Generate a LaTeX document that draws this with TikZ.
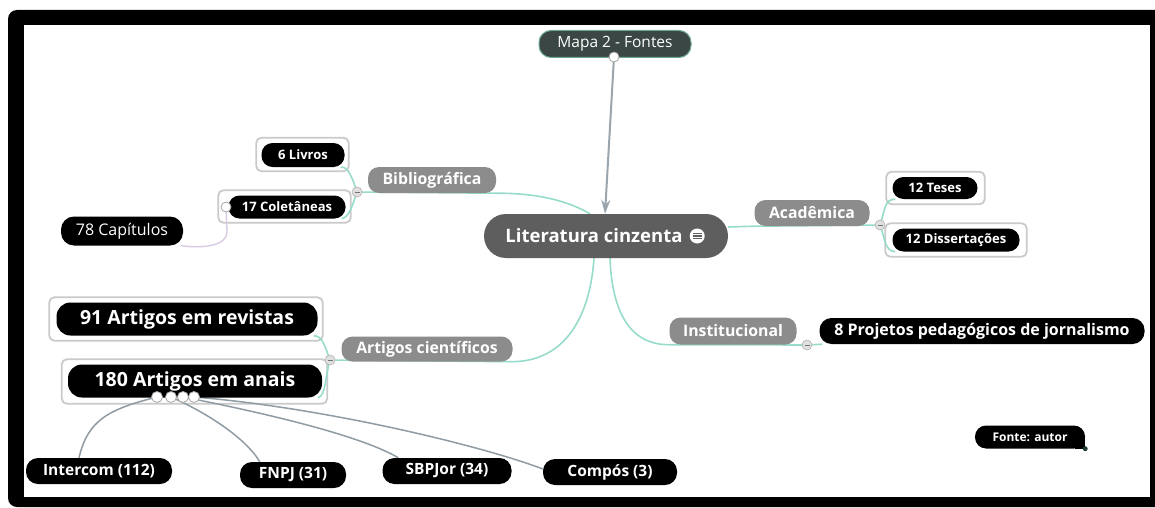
\documentclass[tikz,border=0pt]{standalone}
\usepackage{fontspec}
\setmainfont{Open Sans}
\usetikzlibrary{arrows.meta}
\definecolor{tealln}{HTML}{97DCCB}
\definecolor{brgray}{HTML}{8C8C8C}
\definecolor{frgray}{HTML}{CACACA}
\definecolor{litgray}{HTML}{5E5E5E}
\definecolor{mapafill}{HTML}{3A4745}
\definecolor{mapaline}{HTML}{6FA898}
\definecolor{conngray}{HTML}{8F9CA3}
\definecolor{arrowgray}{HTML}{9AA5AE}
\definecolor{lavender}{HTML}{D9CBE3}
\definecolor{dotgreen}{HTML}{1F3D30}
\pgfdeclarelayer{bg}
\pgfdeclarelayer{mid}
\pgfsetlayers{bg,mid,main}
\newcommand\frameit[5]{\draw[framebox] ([shift={(-#2,-#3)}]#1.south west) rectangle ([shift={(#4,#5)}]#1.north east);}
\begin{document}
\begin{tikzpicture}[x=1pt,y=1pt,
  pill/.style={rectangle, rounded corners=11, text=white, inner sep=0pt},
  branch/.style={pill, fill=brgray, font=\bfseries\fontsize{15.8}{17}\selectfont, minimum height=26},
  leaf/.style={pill, fill=black, font=\bfseries\fontsize{13}{15}\selectfont},
  bigleaf/.style={pill, fill=black, rounded corners=14, font=\bfseries\fontsize{19.5}{21}\selectfont},
  botleaf/.style={pill, fill=black, rounded corners=12, font=\bfseries\fontsize{15.5}{17}\selectfont, minimum height=26},
  framebox/.style={draw=frgray, line width=1.8, rounded corners=5, fill=white},
  tealc/.style={draw=tealln, line width=1.6},
  grayc/.style={draw=conngray, line width=1.5},
  minusc/.style={circle, fill=black!12, draw=black!30, line width=0.6, minimum size=10, inner sep=0pt,
    path picture={\draw[black!55, line width=0.8] ([xshift=-2.5]path picture bounding box.center) -- ([xshift=2.5]path picture bounding box.center);}},
  knob/.style={circle, fill=white, draw=black!35, line width=0.8, minimum size=11, inner sep=0pt}
]
\useasboundingbox (0,0) rectangle (1155,507);
% picture frame
\begin{pgfonlayer}{bg}
  \fill[black, rounded corners=9] (8,0) rectangle (1170,497);
  \fill[white] (24,10) rectangle (1150,482);
\end{pgfonlayer}

% nodes
\node[pill, fill=mapafill, draw=mapaline, line width=1, rounded corners=12, minimum width=152, minimum height=27,
      font=\fontsize{15.5}{17}\selectfont] (mapa) at (615,463) {Mapa 2 - Fontes};
\node[knob, minimum size=10] (mapak) at (614,450) {};
\node[pill, fill=litgray, rounded corners=22, minimum width=244, minimum height=44,
      font=\bfseries\fontsize{18.5}{20}\selectfont] (lit) at (606,271) {Literatura cinzenta\kern24pt};
\node[circle, fill=white, minimum size=15, inner sep=0pt,
  path picture={\foreach \dy in {-2.8,0,2.8}{\draw[litgray, line width=1.1] ([shift={(-4.5,\dy)}]path picture bounding box.center) -- ([shift={(4.5,\dy)}]path picture bounding box.center);}}]
  (icon) at ([xshift=-31]lit.east) {};

\node[branch, minimum width=128] (bib) at (432,327) {Bibliográfica};
\node[minusc] (m1) at (357,315) {};
\node[leaf, minimum width=83, minimum height=24] (liv) at (303,352) {6 Livros};
\node[leaf, minimum width=117, minimum height=23] (col) at (287,300) {17 Coletâneas};
\node[pill, fill=black, rounded corners=13, minimum width=122, minimum height=29,
      font=\fontsize{16}{18}\selectfont] (cap) at (122,276) {78 Capítulos};

\node[branch, minimum width=115] (aca) at (812,294) {Acadêmica};
\node[minusc] (m2) at (880,282) {};
\node[leaf, minimum width=85, minimum height=22] (tes) at (935,319) {12 Teses};
\node[leaf, minimum width=127, minimum height=23] (dis) at (956,267) {12 Dissertações};

\node[branch, minimum width=127, minimum height=27] (ins) at (733,176) {Institucional};
\node[minusc] (m3) at (807,162) {};
\node[pill, fill=black, rounded corners=12, minimum width=325, minimum height=26,
      font=\bfseries\fontsize{16}{18}\selectfont] (proj) at (982,176) {8 Projetos pedagógicos de jornalismo};

\node[branch, minimum width=171, minimum height=25] (art) at (427,158) {Artigos científicos};
\node[minusc] (m4) at (330,147) {};
\node[bigleaf, minimum width=261, minimum height=33] (rev) at (187,188) {91 Artigos em revistas};
\node[bigleaf, minimum width=254, minimum height=33] (ana) at (195,126) {180 Artigos em anais};

\node[botleaf, minimum width=146] (int) at (99,36) {Intercom (112)};
\node[botleaf, minimum width=106] (fnpj) at (293,32) {FNPJ (31)};
\node[botleaf, minimum width=129] (sbp) at (447,36) {SBPJor (34)};
\node[botleaf, minimum width=134] (comp) at (610,35) {Compós (3)};

\node[pill, fill=black, minimum width=110, minimum height=23,
      font=\bfseries\fontsize{12}{14}\selectfont] (fonte) at (1030,70) {Fonte: autor};
\fill[black] (fonte.south east) rectangle ([shift={(-10,10)}]fonte.south east);
\node[circle, fill=dotgreen, minimum size=5, inner sep=0pt] (fdot) at (fonte.south east) {};

% knobs on 180 Artigos and 17 Coletaneas
\node[knob] (k1) at (157,110) {};
\node[knob] (k2) at (171,110) {};
\node[knob] (k3) at (183,110) {};
\node[knob] (k4) at (194,110) {};
\node[knob, minimum size=10] (kc) at (226,300) {};

% frames and connectors
\begin{pgfonlayer}{mid}
  \frameit{liv}{5}{4}{4}{5}
  \frameit{col}{10}{4}{5}{5}
  \frameit{tes}{6}{5}{7}{5}
  \frameit{dis}{7}{5}{7}{5}
  \frameit{rev}{7}{5}{5}{5}
  \frameit{ana}{6}{6}{5}{5}

  \draw[tealc] ([xshift=-16]lit.north) .. controls (570,305) and (540,314) .. (bib.south east) -- (m1.center);
  \draw[tealc] (m1.center) .. controls (352,330) and (348,341) .. ([xshift=-4]liv.south east);
  \draw[tealc] (m1.center) .. controls (352,300) and (349,290) .. ([xshift=-4]col.south east);

  \draw[tealc] ([yshift=9]lit.east) -- (aca.south west) -- (m2.center);
  \draw[tealc] (m2.center) .. controls (885,296) and (884,308) .. ([xshift=3]tes.south west);
  \draw[tealc] (m2.center) .. controls (885,270) and (884,256) .. ([xshift=3]dis.south west);

  \draw[tealc] ([xshift=4]lit.south) .. controls (612,195) and (630,162) .. (ins.south west) -- (m3.center) -- ([xshift=3]proj.south west);
  \draw[tealc] ([xshift=-12]lit.south) .. controls (590,190) and (565,146) .. (art.south east) -- (m4.center);
  \draw[tealc] (m4.center) .. controls (325,160) and (323,171) .. ([xshift=-4]rev.south east);
  \draw[tealc] (m4.center) .. controls (325,130) and (326,112) .. ([xshift=-4]ana.south east);

  \draw[grayc] (k1.center) .. controls (110,98) and (88,88) .. ([xshift=-20]int.north);
  \draw[grayc] (k2.center) .. controls (205,95) and (245,70) .. ([xshift=20]fnpj.north west);
  \draw[grayc] (k3.center) .. controls (260,95) and (360,72) .. ([xshift=16]sbp.north west);
  \draw[grayc] (k4.center) .. controls (320,100) and (480,62) .. ([yshift=3]comp.west);

  \draw[draw=lavender, line width=1.4] (kc.center) -- (227,275) .. controls (227,262) and (205,258) .. ([xshift=-2]cap.south east);

  \draw[draw=arrowgray, line width=2, -{Stealth[length=14pt,width=9pt]}] (mapak.center) -- ([xshift=-1]lit.north);
\end{pgfonlayer}
\end{tikzpicture}
\end{document}
